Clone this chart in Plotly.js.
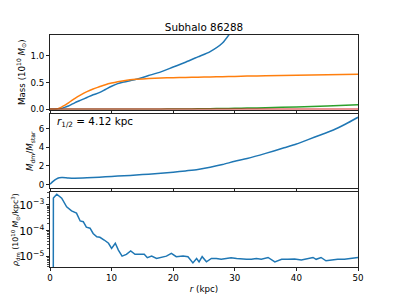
<!DOCTYPE html>
<html>
<head>
<meta charset="utf-8">
<script src="https://cdn.plot.ly/plotly-3.0.1.min.js"></script>
<style>html,body{margin:0;padding:0;background:#fff;}#chart{width:399px;height:299px;}</style>
</head>
<body>
<div id="chart"></div>
<script>
// ---- data ----
const chartTitle = "Subhalo 86288";
const rMass = [0, 0.5, 1, 1.5, 2, 2.5, 3, 3.5, 4, 5, 6, 7, 8, 9, 10, 11, 12, 13, 14, 16, 18, 20, 22, 24, 26, 28, 30, 32, 35, 40, 45, 50];
const massDM = [0, 0, 0.0, 0.01, 0.02, 0.04, 0.06, 0.09, 0.12, 0.17, 0.22, 0.27, 0.31, 0.37, 0.43, 0.48, 0.51, 0.535, 0.56, 0.63, 0.70, 0.79, 0.88, 0.98, 1.08, 1.24, 1.54, 1.77, 2.09, 2.76, 3.6, 4.73];
const massStar = [0, 0, 0.005, 0.02, 0.05, 0.08, 0.12, 0.16, 0.2, 0.27, 0.33, 0.38, 0.42, 0.46, 0.49, 0.515, 0.535, 0.55, 0.56, 0.575, 0.585, 0.59, 0.595, 0.60, 0.605, 0.61, 0.615, 0.62, 0.625, 0.635, 0.645, 0.655];
const massBH = [0, 0, 0, 0, 0, 0, 0, 0, 0, 0, 0, 0, 0, 0, 0, 0, 0, 0, 0, 0.001, 0.002, 0.003, 0.005, 0.007, 0.010, 0.013, 0.017, 0.021, 0.028, 0.043, 0.062, 0.085];
const massGas = [0, 0, 0, 0, 0, 0, 0, 0, 0, 0, 0, 0, 0, 0, 0, 0, 0, 0, 0, 0, 0, 0, 0, 0, 0, 0, 0, 0, 0, 0, 0, 0];

const rRatio = [0, 0.5, 1, 1.5, 2, 3, 4, 6, 8, 10, 12, 14, 16, 18, 20, 22, 24, 26, 28, 30, 32, 35, 38, 40, 42, 44, 46, 48, 50];
const ratioDMStar = [0.05, 0.35, 0.6, 0.74, 0.76, 0.71, 0.69, 0.73, 0.8, 0.88, 0.95, 1.03, 1.12, 1.22, 1.33, 1.47, 1.62, 1.86, 2.15, 2.5, 2.8, 3.35, 3.95, 4.35, 4.85, 5.35, 5.85, 6.5, 7.22];

const rRho = [0.5, 0.55, 1.1, 1.9, 2.7, 3.5, 4.3, 4.9, 5.4, 5.9, 6.5, 7.0, 7.6, 8.1, 8.8, 9.5, 10.0, 10.6, 11.1, 11.7, 12.4, 13.1, 13.8, 14.6, 15.3, 15.8, 16.5, 17.3, 18.1, 18.9, 19.7, 20.5, 21.6, 22.4, 23.2, 23.8, 24.2, 24.7, 25.4, 26.2, 27.0, 27.8, 28.6, 29.4, 30.3, 31.1, 31.9, 32.7, 33.5, 34.3, 35.4, 36.5, 37.6, 38.6, 39.7, 40.8, 41.9, 42.7, 43.2, 44.0, 44.8, 45.6, 46.7, 47.8, 48.9, 50];
const rhoDM = [1e-12, 1.85e-3, 2.6e-3, 1.82e-3, 8.5e-4, 5.9e-4, 4.8e-4, 2.4e-4, 2.24e-4, 1.38e-4, 1.26e-4, 7.9e-5, 5.9e-5, 5.6e-5, 4.4e-5, 3.3e-5, 2.1e-5, 3.3e-5, 1.8e-5, 1.05e-5, 1.23e-5, 1.66e-5, 1.23e-5, 1.26e-5, 1.23e-5, 9.1e-6, 1.05e-5, 8.5e-6, 9.3e-6, 1.05e-5, 1.35e-5, 1.0e-5, 1.05e-5, 1.0e-5, 5.75e-6, 8.5e-6, 6.3e-6, 1.0e-5, 6.3e-6, 8.5e-6, 8.5e-6, 7.9e-6, 8.5e-6, 9.1e-6, 8.5e-6, 8.1e-6, 7.9e-6, 7.9e-6, 8.5e-6, 7.9e-6, 9.3e-6, 6.3e-6, 7.9e-6, 7.9e-6, 8.1e-6, 7.4e-6, 8.5e-6, 9.3e-6, 7.9e-6, 9.3e-6, 6.9e-6, 7.4e-6, 7.9e-6, 7.9e-6, 8.5e-6, 9.3e-6];

const xTicks = [0, 10, 20, 30, 40, 50];
const xTickText = ["0", "10", "20", "30", "40", "50"];
const halfRadiusText = "<i>r</i><sub>1/2</sub> = 4.12 kpc";

// ---- styling ----
const C0 = '#1f77b4', C1 = '#ff7f0e', C2 = '#2ca02c', C3 = '#d62728';
const LW = 1.5;
const FONT = 'DejaVu Sans, sans-serif';
const TF = 8.7;

function line(x, y, color, xa, ya, smooth) {
  const ln = {color: color, width: LW};
  if (smooth) { ln.shape = 'spline'; ln.smoothing = 0.7; }
  return {x: x, y: y, type: 'scatter', mode: 'lines', xaxis: xa, yaxis: ya,
          line: ln, hoverinfo: 'skip', showlegend: false, cliponaxis: true};
}

const data = [
  line(rMass, massDM, C0, 'x', 'y', true),
  line(rMass, massStar, C1, 'x', 'y', true),
  line(rMass, massBH, C2, 'x', 'y', true),
  line(rMass, massGas, C3, 'x', 'y', false),
  line(rRatio, ratioDMStar, C0, 'x2', 'y2', true),
  line(rRho, rhoDM, C0, 'x3', 'y3', false)
];

const axCommon = {
  showline: true, linecolor: '#222', linewidth: 1, mirror: true,
  ticks: 'outside', ticklen: 3, tickwidth: 1, tickcolor: '#222',
  showgrid: false, zeroline: false, automargin: false,
  tickfont: {family: FONT, size: TF, color: '#000'}
};

function xax(anchor, labels) {
  return Object.assign({}, axCommon, {
    anchor: anchor, domain: [0, 1], range: [0, 50],
    tickmode: 'array', tickvals: xTicks, ticktext: xTickText,
    showticklabels: labels
  });
}

const H = 232; // plot-area height in px
function dom(topPx, botPx) { return [(267 - botPx) / H, (267 - topPx) / H]; }

const layout = {
  width: 399, height: 299,
  margin: {l: 50, r: 41, t: 35, b: 32, pad: 0},
  paper_bgcolor: '#fff', plot_bgcolor: '#fff',
  showlegend: false,
  font: {family: FONT, size: TF, color: '#000'},
  title: {text: chartTitle, font: {family: FONT, size: 10.4, color: '#000'},
          x: 204 / 399, xanchor: 'center', xref: 'container',
          y: 1 - 27 / 299, yanchor: 'middle', yref: 'container'},
  xaxis: xax('y', false),
  xaxis2: xax('y2', false),
  xaxis3: Object.assign(xax('y3', true), {title: {text: '<i>r</i> (kpc)', font: {family: FONT, size: TF}, standoff: 3}}),
  yaxis: Object.assign({}, axCommon, {anchor: 'x', domain: dom(35, 109.5), range: [-0.005, 1.39],
          tickmode: 'array', tickvals: [0, 0.5, 1.0], ticktext: ['0.0', '0.5', '1.0']}),
  yaxis2: Object.assign({}, axCommon, {anchor: 'x2', domain: dom(114, 188), range: [-0.36, 7.57],
          tickmode: 'array', tickvals: [0, 2, 4, 6], ticktext: ['0', '2', '4', '6']}),
  yaxis3: Object.assign({}, axCommon, {anchor: 'x3', domain: dom(192, 267), type: 'log', range: [-5.40, -2.50],
          dtick: 1, exponentformat: 'power', showexponent: 'all',
          minor: {ticks: 'outside', ticklen: 1.8, tickwidth: 0.8, tickcolor: '#222', dtick: 'D1'}}),
  annotations: [
    {text: halfRadiusText, xref: 'paper', yref: 'paper', x: (55 - 50) / 308, y: (267 - 121.7) / H,
     xanchor: 'left', yanchor: 'middle', showarrow: false, font: {family: FONT, size: 10.4, color: '#000'}},
    {text: 'Mass (10<sup>10</sup> <i>M</i><sub>\u2299</sub>)', xref: 'paper', yref: 'paper',
     x: (21 - 50) / 308, y: (267 - 72) / H, textangle: -90, xanchor: 'center', yanchor: 'middle',
     showarrow: false, font: {family: FONT, size: TF, color: '#000'}},
    {text: '<i>M</i><sub>dm</sub>/<i>M</i><sub>star</sub>', xref: 'paper', yref: 'paper',
     x: (30 - 50) / 308, y: (267 - 151) / H, textangle: -90, xanchor: 'center', yanchor: 'middle',
     showarrow: false, font: {family: FONT, size: TF, color: '#000'}},
    {text: '<i>\u03c1</i><sub>dm</sub> (10<sup>10</sup> <i>M</i><sub>\u2299</sub>/kpc<sup>3</sup>)', xref: 'paper', yref: 'paper',
     x: (16 - 50) / 308, y: (267 - 230) / H, textangle: -90, xanchor: 'center', yanchor: 'middle',
     showarrow: false, font: {family: FONT, size: 7.8, color: '#000'}}
  ]
};

Plotly.newPlot('chart', data, layout, {staticPlot: true, displayModeBar: false});
</script>
</body>
</html>
